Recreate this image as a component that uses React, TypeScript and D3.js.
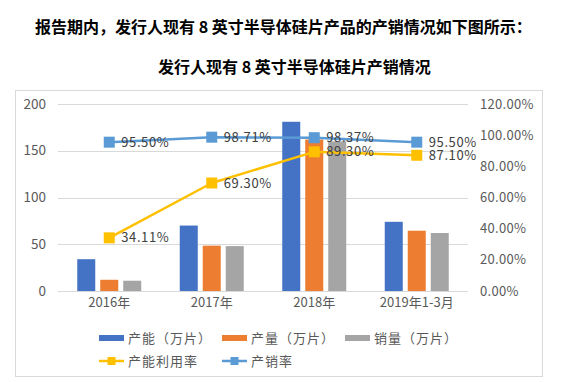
import React from "react";
import * as d3 from "d3";

const categories = ["2016年", "2017年", "2018年", "2019年1-3月"];
const capacity = [34, 70, 181, 74];
const output = [12, 48.5, 162, 64.5];
const sales = [11, 48, 160, 62];
const utilization = [34.11, 69.3, 89.3, 87.1];
const salesRate = [95.5, 98.71, 98.37, 95.5];
const leftTicks = [0, 50, 100, 150, 200];
const rightTicks = [0, 20, 40, 60, 80, 100, 120];

const barSeries = [
  { name: "产能（万片）", values: capacity, color: "#4472C4" },
  { name: "产量（万片）", values: output, color: "#ED7D31" },
  { name: "销量（万片）", values: sales, color: "#A5A5A5" },
];
const lineSeries = [
  { name: "产能利用率", values: utilization, color: "#FFC000" },
  { name: "产销率", values: salesRate, color: "#5B9BD5" },
];

const W = 561;
const H = 382;
const plot = { left: 58, right: 468, top: 104, bottom: 291 };
const font = "'Noto Sans CJK SC', 'Noto Sans', sans-serif";

export default function App() {
  const x = d3.scaleBand<string>().domain(categories).range([plot.left, plot.right]).padding(0);
  const inner = d3
    .scaleBand<string>()
    .domain(barSeries.map((s) => s.name))
    .range([-32, 32])
    .paddingInner(0.217)
    .paddingOuter(0);
  const yL = d3.scaleLinear().domain([0, 200]).range([plot.bottom, plot.top]);
  const yR = d3.scaleLinear().domain([0, 120]).range([plot.bottom, plot.top]);
  const cx = (c: string) => (x(c) as number) + x.bandwidth() / 2;

  const line = (vals: number[]) =>
    d3
      .line<number>()
      .x((_, i) => cx(categories[i]))
      .y((v) => yR(v))(vals) as string;

  const ms = 11;

  return (
    <svg
      width={W}
      height={H}
      style={{ position: "fixed", left: 0, top: 0, background: "#fff" }}
      fontFamily={font}
    >
      <rect width={W} height={H} fill="#fff" />
      <text x={35} y={33} fontSize={16} fontWeight="bold" fill="#000">
        报告期内，发行人现有 8 英寸半导体硅片产品的产销情况如下图所示：
      </text>
      <text x={158} y={73} fontSize={16} fontWeight="bold" fill="#000">
        发行人现有 8 英寸半导体硅片产销情况
      </text>
      <rect x={15.5} y={90.5} width={527} height={286} fill="#fff" stroke="#D9D9D9" strokeWidth={1} />

      {leftTicks.map((t) => (
        <g key={"l" + t}>
          <line x1={plot.left} x2={plot.right} y1={Math.round(yL(t)) + 0.5} y2={Math.round(yL(t)) + 0.5} stroke="#D9D9D9" strokeWidth={1} />
          <text x={46} y={yL(t)} dy="0.35em" textAnchor="end" fontSize={13.5} fill="#595959">
            {t}
          </text>
        </g>
      ))}
      {rightTicks.map((t) => (
        <text key={"r" + t} x={480} y={yR(t)} dy="0.35em" fontSize={13} fill="#595959" letterSpacing={0.3}>
          {t.toFixed(2) + "%"}
        </text>
      ))}

      {barSeries.map((s) =>
        s.values.map((v, i) => (
          <rect
            key={s.name + i}
            x={cx(categories[i]) + (inner(s.name) as number)}
            y={yL(v)}
            width={inner.bandwidth()}
            height={yL(0) - yL(v)}
            fill={s.color}
          />
        ))
      )}

      {categories.map((c) => (
        <text key={c} x={cx(c)} y={307} textAnchor="middle" fontSize={13} fill="#595959">
          {c}
        </text>
      ))}

      {lineSeries.map((s) => (
        <g key={s.name}>
          <path d={line(s.values)} fill="none" stroke={s.color} strokeWidth={2.5} strokeLinejoin="round" />
          {s.values.map((v, i) => (
            <rect key={i} x={cx(categories[i]) - ms / 2} y={yR(v) - ms / 2} width={ms} height={ms} fill={s.color} />
          ))}
          {s.values.map((v, i) => (
            <text key={"t" + i} x={cx(categories[i]) + 12} y={yR(v)} dy="0.35em" fontSize={13} fill="#404040" letterSpacing={0.6}>
              {v.toFixed(2) + "%"}
            </text>
          ))}
        </g>
      ))}

      {barSeries.map((s, i) => (
        <g key={"lg" + s.name} transform={`translate(${99 + i * 123},338)`}>
          <rect x={0} y={-3} width={25} height={6} fill={s.color} />
          <text x={29} y={0} dy="0.35em" fontSize={13} fill="#595959" letterSpacing={1}>
            {s.name}
          </text>
        </g>
      ))}
      {lineSeries.map((s, i) => (
        <g key={"ll" + s.name} transform={`translate(${99 + i * 123},361)`}>
          <line x1={0} x2={25} y1={0} y2={0} stroke={s.color} strokeWidth={2.5} />
          <rect x={8.5} y={-4} width={8} height={8} fill={s.color} />
          <text x={29} y={0} dy="0.35em" fontSize={13} fill="#595959" letterSpacing={1}>
            {s.name}
          </text>
        </g>
      ))}
    </svg>
  );
}
